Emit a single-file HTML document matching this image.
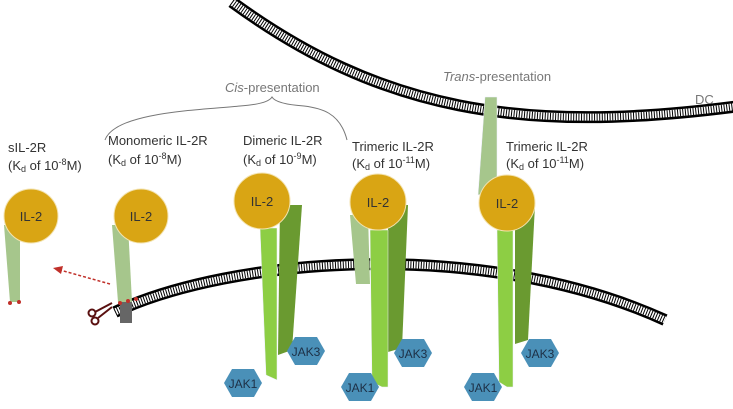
<!DOCTYPE html>
<html><head><style>
html,body{margin:0;padding:0;background:#fff;}
svg{display:block;}
text{font-family:"Liberation Sans",sans-serif;}
</style></head><body>
<svg width="733" height="409" viewBox="0 0 733 409" xmlns="http://www.w3.org/2000/svg">
<!-- DC membrane -->
<path d="M232,2 C380,110 520,135 740,106" fill="none" stroke="#000" stroke-width="12"/>
<path d="M232,2 C380,110 520,135 740,106" fill="none" stroke="#fff" stroke-width="7"/>
<path d="M232,2 C380,110 520,135 740,106" fill="none" stroke="#000" stroke-width="7" stroke-dasharray="1 1.6"/>
<!-- trans alpha chain -->
<polygon points="485,97 497,97 497,190 478,195" fill="#a6c68c" stroke="#eef" stroke-width="0.5"/>
<!-- lower membrane -->
<path d="M115,312 C230,258 480,236 665,320" fill="none" stroke="#000" stroke-width="12"/>
<path d="M115,312 C230,258 480,236 665,320" fill="none" stroke="#fff" stroke-width="7"/>
<path d="M115,312 C230,258 480,236 665,320" fill="none" stroke="#000" stroke-width="7" stroke-dasharray="1 1.6"/>

<!-- sIL-2R -->
<polygon points="4,225 20,225 20,302 10,302" fill="#a6c68c"/>
<circle cx="10" cy="303" r="2" fill="#c0302a"/><circle cx="19" cy="302" r="2" fill="#c0302a"/>
<circle cx="31" cy="216" r="27" fill="#d9a514" stroke="#f3e3b0" stroke-width="1"/>
<text x="31" y="221" font-size="13" text-anchor="middle" fill="#333">IL-2</text>

<!-- monomeric -->
<rect x="120" y="300" width="12" height="23" fill="#666"/>
<polygon points="112,225 128,225 132,302 118,302" fill="#a6c68c"/>
<circle cx="141" cy="216" r="27" fill="#d9a514" stroke="#f3e3b0" stroke-width="1"/>
<text x="141" y="221" font-size="13" text-anchor="middle" fill="#333">IL-2</text>
<circle cx="120" cy="303" r="2" fill="#c0302a"/><circle cx="128" cy="301" r="2" fill="#c0302a"/><circle cx="136" cy="299" r="2" fill="#c0302a"/>
<path d="M110,284 L60,270" stroke="#c0302a" stroke-width="1.5" stroke-dasharray="3 2" fill="none"/>
<polygon points="53,268 63,266 61,274" fill="#c0302a"/>
<g stroke="#5a1010" stroke-width="2" fill="none">
<circle cx="92" cy="313" r="3.5"/><circle cx="95" cy="321" r="3.5"/>
<path d="M95,312 L112,303 M98,318 L112,307"/>
</g>

<!-- dimeric -->
<polygon points="280,205 302,205 292,350 278,355" fill="#6a9a30"/>
<polygon points="260,228 277,228 277,380 266,375" fill="#8dce44" stroke="#eef" stroke-width="0.5"/>
<circle cx="262" cy="201" r="28" fill="#d9a514" stroke="#f3e3b0" stroke-width="1"/>
<text x="262" y="206" font-size="13" text-anchor="middle" fill="#333">IL-2</text>
<polygon points="295,337 317,337 325,351 317,365 295,365 287,351" fill="#4a90b8"/>
<text x="306" y="356" font-size="12" text-anchor="middle" fill="#1d2f45">JAK3</text>
<polygon points="232,369 254,369 262,383 254,397 232,397 224,383" fill="#4a90b8"/>
<text x="243" y="388" font-size="12" text-anchor="middle" fill="#1d2f45">JAK1</text>

<!-- trimeric cis -->
<polygon points="350,215 368,215 370,284 356,284" fill="#a6c68c"/>
<polygon points="388,205 408,205 402,348 388,352" fill="#6a9a30"/>
<polygon points="370,230 388,230 388,387 382,387 372,382" fill="#8dce44" stroke="#eef" stroke-width="0.5"/>
<circle cx="378" cy="202" r="28" fill="#d9a514" stroke="#f3e3b0" stroke-width="1"/>
<text x="378" y="207" font-size="13" text-anchor="middle" fill="#333">IL-2</text>
<polygon points="402,339 424,339 432,353 424,367 402,367 394,353" fill="#4a90b8"/>
<text x="413" y="358" font-size="12" text-anchor="middle" fill="#1d2f45">JAK3</text>
<polygon points="349,373 371,373 379,387 371,401 349,401 341,387" fill="#4a90b8"/>
<text x="360" y="392" font-size="12" text-anchor="middle" fill="#1d2f45">JAK1</text>

<!-- trimeric trans -->
<polygon points="515,205 535,205 528,340 515,344" fill="#6a9a30"/>
<polygon points="497,230 513,230 513,387 507,387 499,382" fill="#8dce44" stroke="#eef" stroke-width="0.5"/>
<circle cx="507" cy="203" r="28" fill="#d9a514" stroke="#f3e3b0" stroke-width="1"/>
<text x="507" y="208" font-size="13" text-anchor="middle" fill="#333">IL-2</text>
<polygon points="529,339 551,339 559,353 551,367 529,367 521,353" fill="#4a90b8"/>
<text x="540" y="358" font-size="12" text-anchor="middle" fill="#1d2f45">JAK3</text>
<polygon points="472,373 494,373 502,387 494,401 472,401 464,387" fill="#4a90b8"/>
<text x="483" y="392" font-size="12" text-anchor="middle" fill="#1d2f45">JAK1</text>

<!-- labels -->
<g font-size="13" fill="#333">
<text x="8" y="152">sIL-2R</text>
<text x="8" y="170">(K<tspan font-size="9" dy="2">d</tspan><tspan dy="-2"> of 10</tspan><tspan font-size="9" dy="-5">-8</tspan><tspan dy="5">M)</tspan></text>
<text x="108" y="145">Monomeric IL-2R</text>
<text x="108" y="164">(K<tspan font-size="9" dy="2">d</tspan><tspan dy="-2"> of 10</tspan><tspan font-size="9" dy="-5">-8</tspan><tspan dy="5">M)</tspan></text>
<text x="243" y="145">Dimeric IL-2R</text>
<text x="243" y="164">(K<tspan font-size="9" dy="2">d</tspan><tspan dy="-2"> of 10</tspan><tspan font-size="9" dy="-5">-9</tspan><tspan dy="5">M)</tspan></text>
<text x="352" y="151">Trimeric IL-2R</text>
<text x="352" y="168">(K<tspan font-size="9" dy="2">d</tspan><tspan dy="-2"> of 10</tspan><tspan font-size="9" dy="-5">-11</tspan><tspan dy="5">M)</tspan></text>
<text x="506" y="151">Trimeric IL-2R</text>
<text x="506" y="168">(K<tspan font-size="9" dy="2">d</tspan><tspan dy="-2"> of 10</tspan><tspan font-size="9" dy="-5">-11</tspan><tspan dy="5">M)</tspan></text>
</g>
<g font-size="13" fill="#777">
<text x="225" y="92"><tspan font-style="italic">Cis</tspan>-presentation</text>
<text x="443" y="81"><tspan font-style="italic">Trans</tspan>-presentation</text>
<text x="695" y="104">DC</text>
</g>
<path d="M105,140 C115,112 200,110 240,106 Q268,104 272,97 Q276,104 304,106 C320,108 340,112 347,140" fill="none" stroke="#777" stroke-width="1"/>
</svg>
</body></html>
